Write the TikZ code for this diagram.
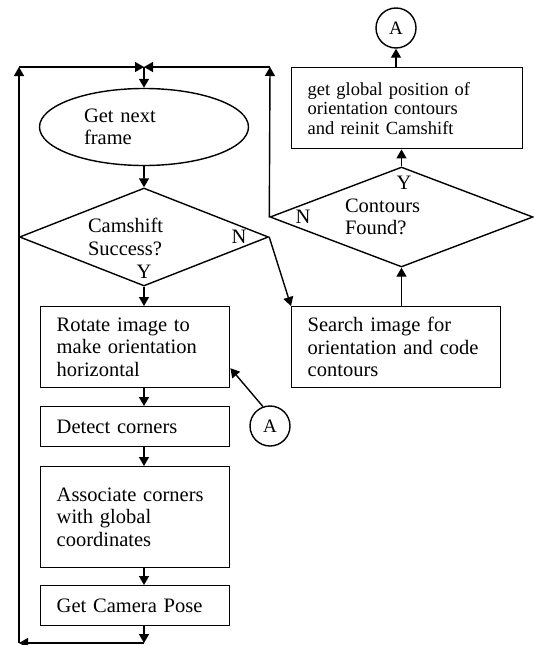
\documentclass[tikz,border=0pt]{standalone}
\usepackage{fontspec}
\setmainfont{Liberation Serif}
\usetikzlibrary{arrows.meta,shapes.geometric}

\begin{document}
\begin{tikzpicture}[x=1pt,y=-1pt,line width=1.4pt,
  >={Triangle[length=9pt,width=10pt]},
  every node/.style={font=\fontsize{20.5}{22.5}\selectfont},
  box/.style={draw, rectangle, anchor=north west, align=left,
    inner xsep=16pt, inner ysep=0pt},
  decision/.style={draw, diamond, inner sep=0pt, align=left},
  conn/.style={draw, circle, minimum size=40pt, inner sep=0pt,
    font=\fontsize{19}{20}\selectfont}]
\useasboundingbox (0,0) rectangle (533,645);

\node[draw, ellipse, minimum width=209pt, minimum height=77pt, inner sep=0pt,
  text width=120pt, align=left] (1) at (144,127)
{Get next\\frame};

\node[decision, aspect=2.54, minimum width=249pt, minimum height=98pt,
  text width=112pt] (2) at (144,237)
{Camshift\\Success?};

\node[box, text width=157pt, minimum height=81pt] (3) at (40,306)
{Rotate image to\\make orientation\\horizontal};

\node[box, text width=157pt, minimum height=40pt] (4) at (40,406)
{Detect corners};

\node[box, text width=157pt, minimum height=101pt] (5) at (40,466)
{Associate corners\\with global\\coordinates};

\node[box, text width=157pt, minimum height=40pt] (6) at (40,585)
{Get Camera Pose};

\node[box, text width=177pt, minimum height=81pt] (7) at (291,306)
{Search image for\\orientation and code\\contours};

\node[decision, aspect=2.63, minimum width=263pt, minimum height=100pt,
  text width=113pt] (8) at (401.5,217)
{Contours\\Found?};

\node[box, text width=199pt, minimum height=81pt,
  font=\fontsize{18.5}{19.5}\selectfont] (9) at (291,67)
{get global position of\\orientation contours\\and reinit Camshift};

\node[conn] (A1) at (396,28) {A};
\node[conn] (A2) at (270,426) {A};

\node (N1) at (239,237) {N};
\node (Y1) at (144,272) {Y};
\node (N2) at (303,217) {N};
\node (Y2) at (404,183) {Y};

\coordinate (top) at (144,67);
\coordinate (topL) at (19,67);
\coordinate (botL) at (19,643);
\coordinate (bot) at (144,643);
\coordinate (topR) at (270,67);

\draw[->] (top) -- (1);
\draw[->] (1) -- (2);
\draw[->] (2) -- (3.north -| 2);
\draw[->] (3.south -| 2) -- (4.north -| 2);
\draw[->] (4.south -| 2) -- (5.north -| 2);
\draw[->] (5.south -| 2) -- (6.north -| 2);

\draw[->] (6.south -| 2) -- (bot);
\draw[->] (bot) -- (botL);
\draw[->] (botL) -- (topL);
\draw[->] (topL) -- (top);

\draw[->] (2.east) -- (7.north west);
\draw[->] (7.north -| 8.south) -- (8.south);
\draw[->] (8.north) -- (8.north |- 9.south);
\draw[->] (A1 |- 9.north) -- (A1);

\draw[->] (8.west) -- (topR);
\draw[->] (topR) -- (top);

\draw[->] (A2.110) -- ([yshift=-21pt]3.east);

\end{tikzpicture}
\end{document}
